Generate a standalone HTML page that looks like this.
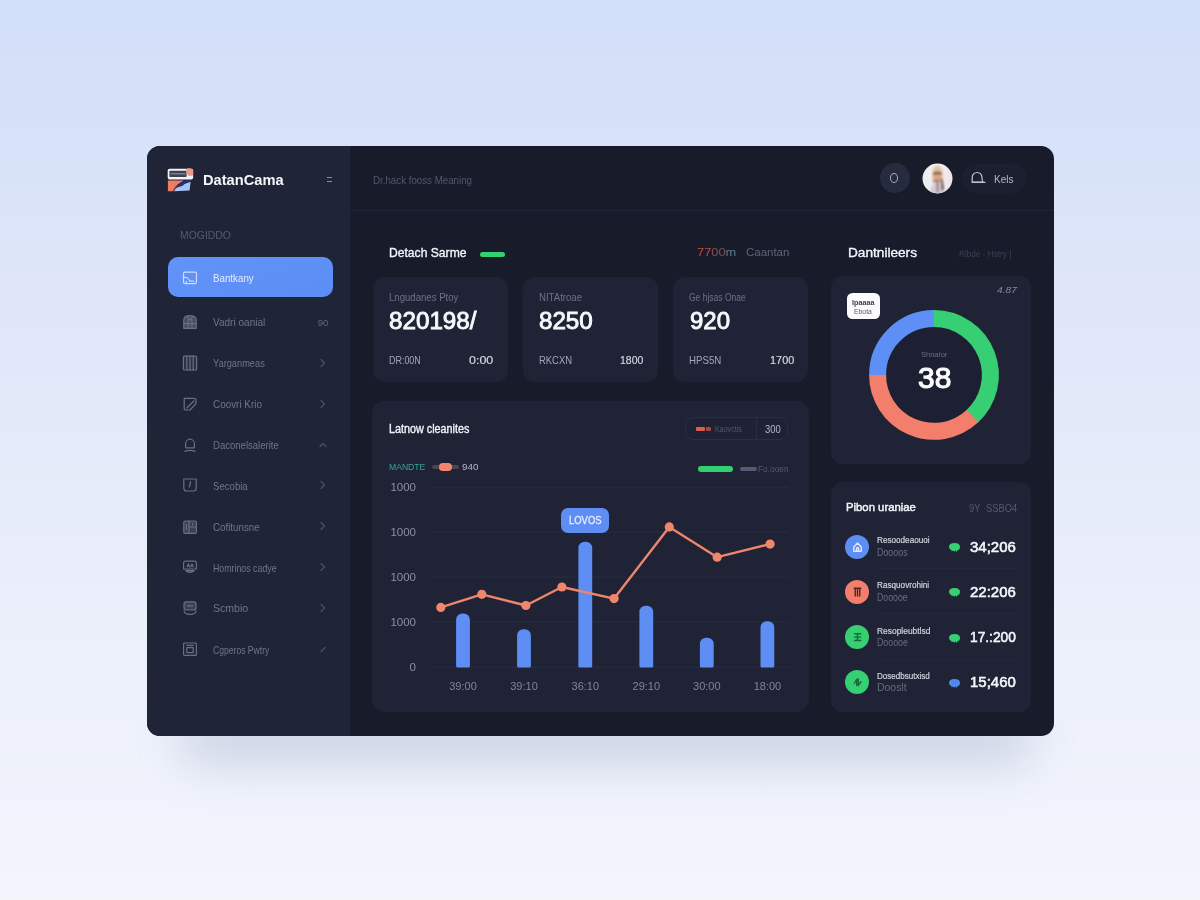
<!DOCTYPE html>
<html lang="en">
<head>
<meta charset="utf-8">
<title>DatanCama Dashboard</title>
<style>
*{box-sizing:border-box;margin:0;padding:0}
html,body{width:1200px;height:900px;overflow:hidden}
body{font-family:"Liberation Sans",sans-serif;background:linear-gradient(180deg,#d2dff8 0%,#d7e2f8 15%,#dfe6f9 33%,#e6ebfa 52%,#ecf0fb 72%,#f0f3fc 90%,#f3f5fb 100%);position:relative;color:#fff}
.abs{position:absolute}
.t{position:absolute;white-space:nowrap;line-height:1;transform:translateY(-50%)}
#shadow{left:178px;top:714px;width:856px;height:50px;border-radius:25px;background:rgba(112,126,165,.26);filter:blur(22px)}
#app{left:146.5px;top:146px;width:907.6px;height:589.7px;border-radius:13px;background:#181b2a;overflow:hidden}
#side{left:0;top:0;width:203.3px;height:590px;background:#1f2437}
#hline{left:203.3px;top:64.2px;width:705px;height:1px;background:#212537}
.card{position:absolute;background:#1f2335;border-radius:12px}
.nav{position:absolute;left:21.2px;width:165.2px;height:40px}
.nav .ic{position:absolute;left:14.3px;top:12.4px;width:16px;height:16px}
.nav .lb{position:absolute;left:45.2px;top:20.7px;font-size:10.8px;color:#70758b;line-height:1;transform:translateY(-50%);white-space:nowrap}
.nav .ch{position:absolute;left:151.5px;top:14px;width:8px;height:12px}
.nav.act{background:linear-gradient(160deg,#6193f8 0%,#5c8df4 100%);border-radius:10px;height:40.8px;margin-top:-0.4px}
.nav.act .lb{color:#e6edff;top:21.6px}
.nav.act .ic{top:13px}
.nav .bd{position:absolute;right:4.5px;top:21.5px;font-size:9.5px;color:#62677d;line-height:1;transform:translateY(-50%)}
</style>
</head>
<body>
<div id="shadow" class="abs"></div>
<div id="app" class="abs">
<div id="side" class="abs">
<svg class="abs" style="left:20.5px;top:21.8px" width="27" height="25" viewBox="0 0 27 25">
  <rect x="0.7" y="0.7" width="25.4" height="10.9" rx="1.8" fill="#f1f2f8"/>
  <rect x="2.4" y="2.7" width="17.2" height="6.4" rx="0.8" fill="#3f414f"/>
  <rect x="3.4" y="5.3" width="15.2" height="1" fill="#9a9ba6"/>
  <path d="M19.2 1.4 Q20.2 -0.2 23 0.3 L26.2 1.4 V7.4 L21.8 8 Q18.8 6 19.2 1.4 Z" fill="#ec9a84"/>
  <path d="M0.9 12.5 H16.8 Q13.2 14.6 10 17 Q7.4 19.4 6 23.3 H0.9 Z" fill="#ef7c65"/>
  <path d="M9.6 17.2 Q7 19.6 5.8 23.3 H7.2 Q8.6 19.6 11.4 17.6 Z" fill="#9a3a30"/>
  <path d="M7 23.3 Q8.4 19.8 11.8 18.6 Q15.4 18.2 17.4 15.6 L23.6 13.4 L22.6 22.6 Z" fill="#a9c3f6"/>
  <path d="M17 12.5 H24 L23.6 13.8 L17.6 16 Q15.6 18.4 12.2 18.8 Q10 19.2 8.6 20.6 Q10.4 17 13.4 15.4 Z" fill="#22356d"/>
</svg>
<span class="t" style="left:56.7px;top:33.9px;font-size:15.5px;color:#f4f6fb;font-weight:bold;transform-origin:0 50%;transform:translateY(-50%) scaleX(0.945)">DatanCama</span>
<div class="abs" style="left:180px;top:31px;width:5px;height:1.2px;background:#8a8fa3"></div><div class="abs" style="left:180px;top:34.6px;width:5px;height:1.2px;background:#8a8fa3"></div>
<span class="t" style="left:33.5px;top:89.2px;font-size:11px;color:#555a70;transform-origin:0 50%;transform:translateY(-50%) scaleX(0.948)">MOGIDDO</span>
<div class="nav act" style="top:111.0px"><svg class="ic" viewBox="0 0 16 16" fill="none" stroke="#cfdcff" stroke-width="1.2" stroke-linecap="round" stroke-linejoin="round"><rect x="1.5" y="2.2" width="13" height="11.4" rx="1.5"/><path d="M1.5 7.6 C4.5 7 7 8.6 7.6 11.2 L11.8 11.2"/><path d="M4.2 11.4 L4.2 13.4"/></svg><span class="lb" style="transform-origin:0 50%;transform:translateY(-50%) scaleX(0.904)">Bantkany</span></div>
<div class="nav" style="top:155.8px"><svg class="ic" viewBox="0 0 16 16" fill="none" stroke="#6a6f86" stroke-width="1.2" stroke-linecap="round" stroke-linejoin="round"><path d="M1.8 6 Q1.8 1.6 8 1.6 Q14.2 1.6 14.2 6 V14.4 H1.8 Z" fill="#6a6f86" fill-opacity=".55"/><path d="M1.8 9.6 H14.2 M6.2 5.6 V14.4 M10 5.6 V14.4 M5 2.6 L8 6.4 L11 2.6"/></svg><span class="lb" style="transform-origin:0 50%;transform:translateY(-50%) scaleX(0.93)">Vadri oanial</span><span class="bd">90</span></div>
<div class="nav" style="top:196.7px"><svg class="ic" viewBox="0 0 16 16" fill="none" stroke="#6a6f86" stroke-width="1.2" stroke-linecap="round" stroke-linejoin="round"><rect x="1.4" y="1.2" width="13.2" height="13.8" rx="1" fill="#6a6f86" fill-opacity=".18"/><path d="M4.8 1.2 V15 M8 1.2 V15 M11.2 1.2 V15"/></svg><span class="lb" style="transform-origin:0 50%;transform:translateY(-50%) scaleX(0.857)">Yarganmeas</span><svg class="ch" viewBox="0 0 8 12"><path d="M2 2.5 L5.5 6 L2 9.5" fill="none" stroke="#4b5066" stroke-width="1.2" stroke-linecap="round" stroke-linejoin="round"/></svg></div>
<div class="nav" style="top:237.8px"><svg class="ic" viewBox="0 0 16 16" fill="none" stroke="#6a6f86" stroke-width="1.2" stroke-linecap="round" stroke-linejoin="round"><path d="M2.2 2.4 H12 Q14 2.4 14 4.4 V7.6 L8 14 H4 Q2.2 14 2.2 12.2 Z"/><path d="M4.8 12 L11.8 5"/></svg><span class="lb" style="transform-origin:0 50%;transform:translateY(-50%) scaleX(0.917)">Coovri Krio</span><svg class="ch" viewBox="0 0 8 12"><path d="M2 2.5 L5.5 6 L2 9.5" fill="none" stroke="#4b5066" stroke-width="1.2" stroke-linecap="round" stroke-linejoin="round"/></svg></div>
<div class="nav" style="top:278.7px"><svg class="ic" viewBox="0 0 16 16" fill="none" stroke="#6a6f86" stroke-width="1.2" stroke-linecap="round" stroke-linejoin="round"><path d="M3.6 10.8 V6.8 a4.4 4.6 0 0 1 8.8 0 V10.8 Z"/><path d="M3 14.4 Q8 12.4 13 14.4"/></svg><span class="lb" style="transform-origin:0 50%;transform:translateY(-50%) scaleX(0.884)">Daconelsalerite</span><svg class="ch" viewBox="0 0 8 12"><path d="M1 7.5 L4 4.5 L7 7.5" fill="none" stroke="#4b5066" stroke-width="1.2" stroke-linecap="round" stroke-linejoin="round"/></svg></div>
<div class="nav" style="top:319.0px"><svg class="ic" viewBox="0 0 16 16" fill="none" stroke="#6a6f86" stroke-width="1.2" stroke-linecap="round" stroke-linejoin="round"><path d="M1.8 2 H14.2 V11 Q14.2 14 11.4 14 H4.6 Q1.8 14 1.8 11 Z"/><path d="M8.6 4.6 L7.4 10"/></svg><span class="lb" style="transform-origin:0 50%;transform:translateY(-50%) scaleX(0.889)">Secobia</span><svg class="ch" viewBox="0 0 8 12"><path d="M2 2.5 L5.5 6 L2 9.5" fill="none" stroke="#4b5066" stroke-width="1.2" stroke-linecap="round" stroke-linejoin="round"/></svg></div>
<div class="nav" style="top:360.3px"><svg class="ic" viewBox="0 0 16 16" fill="none" stroke="#6a6f86" stroke-width="1.2" stroke-linecap="round" stroke-linejoin="round"><rect x="1.8" y="2" width="12.6" height="12.4" rx="1.4" fill="#6a6f86" fill-opacity=".4"/><path d="M7 2 V14.4 M7 8 H14.4 M4.4 5.6 V10.4 M10.6 4.4 V6"/></svg><span class="lb" style="transform-origin:0 50%;transform:translateY(-50%) scaleX(0.903)">Cofitunsne</span><svg class="ch" viewBox="0 0 8 12"><path d="M2 2.5 L5.5 6 L2 9.5" fill="none" stroke="#4b5066" stroke-width="1.2" stroke-linecap="round" stroke-linejoin="round"/></svg></div>
<div class="nav" style="top:401.1px"><svg class="ic" viewBox="0 0 16 16" fill="none" stroke="#6a6f86" stroke-width="1.2" stroke-linecap="round" stroke-linejoin="round"><path d="M1.6 4 Q1.6 2.2 3.4 2.2 H12.6 Q14.4 2.2 14.4 4 V10 H1.6 Z"/><path d="M5.2 8 L6.4 4.8 L7.6 8 M8.8 8 L10 4.8 L11.2 8"/><path d="M3.6 11.6 Q8 15.4 12.4 11.6 Z" fill="#6a6f86" fill-opacity=".5"/></svg><span class="lb" style="transform-origin:0 50%;transform:translateY(-50%) scaleX(0.815)">Homrinos cadye</span><svg class="ch" viewBox="0 0 8 12"><path d="M2 2.5 L5.5 6 L2 9.5" fill="none" stroke="#4b5066" stroke-width="1.2" stroke-linecap="round" stroke-linejoin="round"/></svg></div>
<div class="nav" style="top:441.8px"><svg class="ic" viewBox="0 0 16 16" fill="none" stroke="#6a6f86" stroke-width="1.2" stroke-linecap="round" stroke-linejoin="round"><rect x="2" y="1.8" width="12" height="8.2" rx="2.2" fill="#6a6f86" fill-opacity=".4"/><path d="M5.6 5.8 H10.6"/><path d="M2 10.6 Q2 14.4 8 14.4 Q14 14.4 14 10.6"/></svg><span class="lb" style="transform-origin:0 50%;transform:translateY(-50%) scaleX(0.977)">Scmbio</span><svg class="ch" viewBox="0 0 8 12"><path d="M2 2.5 L5.5 6 L2 9.5" fill="none" stroke="#4b5066" stroke-width="1.2" stroke-linecap="round" stroke-linejoin="round"/></svg></div>
<div class="nav" style="top:483.1px"><svg class="ic" viewBox="0 0 16 16" fill="none" stroke="#6a6f86" stroke-width="1.2" stroke-linecap="round" stroke-linejoin="round"><rect x="1.6" y="2" width="12.8" height="12.4" rx="1"/><rect x="4.8" y="6.6" width="6.4" height="5"/><path d="M4.8 4.4 H11.2"/></svg><span class="lb" style="transform-origin:0 50%;transform:translateY(-50%) scaleX(0.795)">Cgperos Pwtry</span><svg class="ch" viewBox="0 0 8 12"><path d="M2 8.5 L6 4.5" fill="none" stroke="#4b5066" stroke-width="1.2" stroke-linecap="round" stroke-linejoin="round"/></svg></div>
</div>
<div id="hline" class="abs"></div>
<span class="t" style="left:226.2px;top:33.8px;font-size:10.5px;color:#52576d;transform-origin:0 50%;transform:translateY(-50%) scaleX(0.927)">Dr.hack fooss Meaning</span>
<div class="abs" style="left:733.0px;top:17.3px;width:30px;height:30px;border-radius:50%;background:#262b3f"></div>
<div class="abs" style="left:743.8px;top:27.4px;width:8px;height:9.4px;border-radius:50%;border:1.3px solid #a9aebf"></div>
<svg class="abs" style="left:775.1px;top:16.9px" width="31" height="31" viewBox="0 0 31 31">
  <defs><clipPath id="avc"><circle cx="15.5" cy="15.5" r="15"/></clipPath>
  <linearGradient id="avg" x1="0" y1="0" x2="1" y2="0"><stop offset="0" stop-color="#ebecef"/><stop offset="0.55" stop-color="#f3eff0"/><stop offset="1" stop-color="#efe3e5"/></linearGradient>
  <filter id="avb" x="-20%" y="-20%" width="140%" height="140%"><feGaussianBlur stdDeviation="0.8"/></filter></defs>
  <circle cx="15.5" cy="15.5" r="15" fill="url(#avg)"/>
  <g clip-path="url(#avc)"><g filter="url(#avb)">
    <path d="M8 31 Q8.4 21.4 13 20.4 H19 Q22 21.6 22 31 Z" fill="#d3cbd4"/>
    <path d="M10.4 14 Q9.8 3.2 15.4 2.8 Q21.2 3.2 20.8 13 L21.4 20 H10.6 Z" fill="#dcc6a3"/>
    <ellipse cx="15.3" cy="13" rx="3.9" ry="4.8" fill="#e2a585"/>
    <path d="M11 9.6 Q15.4 7.6 19.8 9.6 V12 Q15.4 10.6 11 12.2 Z" fill="#80502f" fill-opacity=".85"/>
    <rect x="11" y="17" width="7.2" height="1.6" fill="#6b585a" fill-opacity=".8"/>
    <rect x="14.2" y="19" width="2.8" height="10.6" fill="#a48a9b"/>
    <path d="M19 15 Q21.4 15.6 21.8 27.2 H19.6 Z" fill="#5b4139"/>
  </g></g>
</svg>
<div class="abs" style="left:815.8px;top:18.0px;width:65px;height:29px;border-radius:14.5px;background:#1c1f30"></div>
<svg class="abs" style="left:823.5px;top:25.2px" width="16" height="14" viewBox="0 0 16 14" fill="none" stroke="#c0c4d2" stroke-width="1.2" stroke-linecap="round" stroke-linejoin="round"><path d="M2.2 11.2 V6.4 a4.9 4.9 0 0 1 9.8 0 Q12 9.6 13 11.2 Z"/><path d="M2.2 11.4 H15"/></svg>
<span class="t" style="left:847.1px;top:33.5px;font-size:10px;color:#b4b8c7;transform-origin:0 50%;transform:translateY(-50%) scaleX(1.002)">Kels</span>
<span class="t" style="left:242.3px;top:107.0px;font-size:12.5px;color:#f3f5fa;transform-origin:0 50%;transform:translateY(-50%) scaleX(0.97);-webkit-text-stroke:0.35px currentColor">Detach Sarme</span>
<div class="abs" style="left:333.9px;top:105.7px;width:24.6px;height:5.8px;border-radius:3px;background:#34cf6e"></div>
<span class="t" style="left:550.3px;top:106.8px;font-size:11.5px;color:#c9574f;transform-origin:0 50%;transform:translateY(-50%) scaleX(1.118)"><span style="color:#c04b45">77</span><span style="color:#84504d">00</span><span style="color:#557e8a">m</span></span>
<span class="t" style="left:599.5px;top:106.8px;font-size:11.5px;color:#5f647a;transform-origin:0 50%;transform:translateY(-50%) scaleX(0.996)">Caantan</span>
<span class="t" style="left:701.3px;top:107.2px;font-size:12.5px;color:#f3f5fa;transform-origin:0 50%;transform:translateY(-50%) scaleX(1.091);-webkit-text-stroke:0.35px currentColor">Dantnileers</span>
<span class="t" style="left:812.8px;top:107.8px;font-size:9.5px;color:#3c4155;transform-origin:0 50%;transform:translateY(-50%) scaleX(0.864)">Ribde - Hstry |</span>
<div class="card" style="left:226.8px;top:131.3px;width:134.5px;height:105px">
<span class="t" style="left:16.2px;top:20.3px;font-size:10px;color:#6d7288;transform-origin:0 50%;transform:translateY(-50%) scaleX(0.959)">Lngudanes Ptoy</span>
<span class="t" style="left:15.3px;top:44.3px;font-size:23.5px;color:#f7f8fc;transform-origin:0 50%;transform:translateY(-50%) scaleX(1.03);-webkit-text-stroke:0.9px currentColor">820198/</span>
<span class="t" style="left:15.6px;top:82.9px;font-size:11px;color:#a3a8b9;transform-origin:0 50%;transform:translateY(-50%) scaleX(0.812)">DR:00N</span>
<span class="t" style="left:96.2px;top:83.5px;font-size:11.5px;color:#d3d6e0;transform-origin:0 50%;transform:translateY(-50%) scaleX(1.083);-webkit-text-stroke:0.2px currentColor">0:00</span>
</div>
<div class="card" style="left:376.8px;top:131.3px;width:134.5px;height:105px">
<span class="t" style="left:16.2px;top:20.3px;font-size:10px;color:#6d7288;transform-origin:0 50%;transform:translateY(-50%) scaleX(0.959)">NITAtroae</span>
<span class="t" style="left:15.9px;top:44.3px;font-size:23.5px;color:#f7f8fc;transform-origin:0 50%;transform:translateY(-50%) scaleX(1.028);-webkit-text-stroke:0.9px currentColor">8250</span>
<span class="t" style="left:16.2px;top:82.9px;font-size:11px;color:#a3a8b9;transform-origin:0 50%;transform:translateY(-50%) scaleX(0.857)">RKCXN</span>
<span class="t" style="left:97.2px;top:83.5px;font-size:11.5px;color:#d3d6e0;transform-origin:0 50%;transform:translateY(-50%) scaleX(0.909);-webkit-text-stroke:0.2px currentColor">1800</span>
</div>
<div class="card" style="left:526.8px;top:131.3px;width:134.5px;height:105px">
<span class="t" style="left:16.0px;top:20.3px;font-size:10px;color:#6d7288;transform-origin:0 50%;transform:translateY(-50%) scaleX(0.85)">Ge hjsas Onae</span>
<span class="t" style="left:16.4px;top:44.3px;font-size:23.5px;color:#f7f8fc;transform-origin:0 50%;transform:translateY(-50%) scaleX(1.02);-webkit-text-stroke:0.9px currentColor">920</span>
<span class="t" style="left:16.0px;top:82.9px;font-size:11px;color:#a3a8b9;transform-origin:0 50%;transform:translateY(-50%) scaleX(0.881)">HPS5N</span>
<span class="t" style="left:96.7px;top:83.5px;font-size:11.5px;color:#d3d6e0;transform-origin:0 50%;transform:translateY(-50%) scaleX(0.95);-webkit-text-stroke:0.2px currentColor">1700</span>
</div>
<div class="card" style="left:225.2px;top:255.0px;width:437.2px;height:310.6px;border-radius:13px">
<span class="t" style="left:17.7px;top:27.8px;font-size:12px;color:#f3f5fa;transform-origin:0 50%;transform:translateY(-50%) scaleX(0.898);-webkit-text-stroke:0.35px currentColor">Latnow cleanites</span>
<div class="abs" style="left:313.5px;top:16.4px;width:103px;height:22.4px;border-radius:8px;border:1px solid #2a2e43;background:#1e2234"></div>
<div class="abs" style="left:384.3px;top:16.4px;width:1px;height:22.4px;background:#292d42"></div>
<div class="abs" style="left:324.1px;top:26.0px;width:9px;height:3.6px;border-radius:1px;background:#d9604f"></div>
<div class="abs" style="left:333.9px;top:26.0px;width:5.6px;height:3.6px;border-radius:1px;background:#a64a44"></div>
<span class="t" style="left:343.7px;top:27.8px;font-size:9px;color:#52576c;transform-origin:0 50%;transform:translateY(-50%) scaleX(0.788)">Kaovctis</span>
<span class="t" style="left:393.3px;top:27.8px;font-size:10.5px;color:#b4b8c7;transform-origin:0 50%;transform:translateY(-50%) scaleX(0.902)">300</span>
<span class="t" style="left:17.7px;top:65.9px;font-size:9px;color:#3aa596;transform-origin:0 50%;transform:translateY(-50%) scaleX(0.955)">MANDTE</span>
<div class="abs" style="left:60.8px;top:64.2px;width:27px;height:3.4px;border-radius:2px;background:#4f434d"></div>
<div class="abs" style="left:67.7px;top:62.0px;width:12.6px;height:7.6px;border-radius:3.8px;background:#f0866c"></div>
<span class="t" style="left:90.7px;top:65.9px;font-size:9px;color:#b4b8c7;transform-origin:0 50%;transform:translateY(-50%) scaleX(1.099)">940</span>
<div class="abs" style="left:326.5px;top:64.5px;width:34.8px;height:6.4px;border-radius:3.2px;background:#34cf6e"></div>
<div class="abs" style="left:368.5px;top:65.6px;width:16.4px;height:4.2px;border-radius:2px;background:#545a7a"></div>
<span class="t" style="left:385.9px;top:67.8px;font-size:9px;color:#565b71;transform-origin:0 50%;transform:translateY(-50%) scaleX(0.927)">Fo.ooen</span>
<svg class="abs" style="left:0;top:0" width="437" height="311" viewBox="0 0 437 311" font-family="Liberation Sans, sans-serif">
<line x1="59.3" y1="86.2" x2="416.9" y2="86.2" stroke="#292d41" stroke-width="1"/>
<line x1="59.3" y1="131.2" x2="416.9" y2="131.2" stroke="#292d41" stroke-width="1"/>
<line x1="59.3" y1="176.0" x2="416.9" y2="176.0" stroke="#292d41" stroke-width="1"/>
<line x1="59.3" y1="221.2" x2="416.9" y2="221.2" stroke="#292d41" stroke-width="1"/>
<line x1="59.3" y1="266.2" x2="416.9" y2="266.2" stroke="#292d41" stroke-width="1"/>
<text x="44.0" y="90.4" text-anchor="end" font-size="11.5" fill="#8b90a3">1000</text>
<text x="44.0" y="135.4" text-anchor="end" font-size="11.5" fill="#8b90a3">1000</text>
<text x="44.0" y="180.2" text-anchor="end" font-size="11.5" fill="#8b90a3">1000</text>
<text x="44.0" y="225.4" text-anchor="end" font-size="11.5" fill="#8b90a3">1000</text>
<text x="44.0" y="270.4" text-anchor="end" font-size="11.5" fill="#8b90a3">0</text>
<path d="M84.1 265.0 V218.7 a6.2 6.2 0 0 1 6.2 -6.2 H91.7 a6.2 6.2 0 0 1 6.2 6.2 V265.0 a1.6 1.6 0 0 1 -1.6 1.6 H85.7 a1.6 1.6 0 0 1 -1.6 -1.6 Z" fill="#5e8ef4"/>
<path d="M145.1 265.0 V234.4 a6.2 6.2 0 0 1 6.2 -6.2 H152.7 a6.2 6.2 0 0 1 6.2 6.2 V265.0 a1.6 1.6 0 0 1 -1.6 1.6 H146.7 a1.6 1.6 0 0 1 -1.6 -1.6 Z" fill="#5e8ef4"/>
<path d="M206.4 265.0 V147.0 a6.2 6.2 0 0 1 6.2 -6.2 H214.0 a6.2 6.2 0 0 1 6.2 6.2 V265.0 a1.6 1.6 0 0 1 -1.6 1.6 H208.0 a1.6 1.6 0 0 1 -1.6 -1.6 Z" fill="#5e8ef4"/>
<path d="M267.4 265.0 V211.0 a6.2 6.2 0 0 1 6.2 -6.2 H275.0 a6.2 6.2 0 0 1 6.2 6.2 V265.0 a1.6 1.6 0 0 1 -1.6 1.6 H269.0 a1.6 1.6 0 0 1 -1.6 -1.6 Z" fill="#5e8ef4"/>
<path d="M327.9 265.0 V242.9 a6.2 6.2 0 0 1 6.2 -6.2 H335.5 a6.2 6.2 0 0 1 6.2 6.2 V265.0 a1.6 1.6 0 0 1 -1.6 1.6 H329.5 a1.6 1.6 0 0 1 -1.6 -1.6 Z" fill="#5e8ef4"/>
<path d="M388.5 265.0 V226.4 a6.2 6.2 0 0 1 6.2 -6.2 H396.1 a6.2 6.2 0 0 1 6.2 6.2 V265.0 a1.6 1.6 0 0 1 -1.6 1.6 H390.1 a1.6 1.6 0 0 1 -1.6 -1.6 Z" fill="#5e8ef4"/>
<polyline points="68.8,206.4 109.8,193.3 153.9,204.5 189.9,186.0 242.1,197.6 297.3,125.9 345.2,156.2 398.1,143.1" fill="none" stroke="#ee866d" stroke-width="2.4" stroke-linejoin="round" stroke-linecap="round"/>
<circle cx="68.8" cy="206.4" r="4.6" fill="#f0866c"/>
<circle cx="109.8" cy="193.3" r="4.6" fill="#f0866c"/>
<circle cx="153.9" cy="204.5" r="4.6" fill="#f0866c"/>
<circle cx="189.9" cy="186.0" r="4.6" fill="#f0866c"/>
<circle cx="242.1" cy="197.6" r="4.6" fill="#f0866c"/>
<circle cx="297.3" cy="125.9" r="4.6" fill="#f0866c"/>
<circle cx="345.2" cy="156.2" r="4.6" fill="#f0866c"/>
<circle cx="398.1" cy="143.1" r="4.6" fill="#f0866c"/>
<text x="91.0" y="289.4" text-anchor="middle" font-size="11" fill="#80859a">39:00</text>
<text x="152.0" y="289.4" text-anchor="middle" font-size="11" fill="#80859a">39:10</text>
<text x="213.3" y="289.4" text-anchor="middle" font-size="11" fill="#80859a">36:10</text>
<text x="274.3" y="289.4" text-anchor="middle" font-size="11" fill="#80859a">29:10</text>
<text x="334.8" y="289.4" text-anchor="middle" font-size="11" fill="#80859a">30:00</text>
<text x="395.4" y="289.4" text-anchor="middle" font-size="11" fill="#80859a">18:00</text>
</svg>
<div class="abs" style="left:189.6px;top:106.6px;width:48px;height:25px;border-radius:7px;background:#5e8ef4"></div>
<span class="t" style="left:197.3px;top:119.4px;font-size:11px;color:#e6edff;transform-origin:0 50%;transform:translateY(-50%) scaleX(0.86);-webkit-text-stroke:0.3px currentColor">LOVOS</span>
</div>
<div class="card" style="left:684.0px;top:129.5px;width:200px;height:188px">
<svg class="abs" style="left:0;top:0" width="200" height="188" viewBox="0 0 200 188">
<circle cx="103.0" cy="98.9" r="56.4" fill="#1d2032"/>
<path d="M103.00 42.50 A56.40 56.40 0 0 1 140.74 140.81" fill="none" stroke="#37cf73" stroke-width="17.0"/>
<path d="M141.46 140.15 A56.40 56.40 0 0 1 46.60 98.41" fill="none" stroke="#f27e6b" stroke-width="17.0"/>
<path d="M46.60 98.90 A56.40 56.40 0 0 1 103.00 42.50" fill="none" stroke="#5d8ff6" stroke-width="17.0"/>
</svg>
<div class="abs" style="left:16.1px;top:17.2px;width:33.6px;height:26px;border-radius:5.5px;background:#fbfbfd"></div>
<span class="t" style="left:21.4px;top:26.1px;font-size:7px;color:#3a3f52;font-weight:bold;transform-origin:0 50%;transform:translateY(-50%) scaleX(1.037)">Ipaaaa</span>
<span class="t" style="left:23.7px;top:35.5px;font-size:7px;color:#555a6d;transform-origin:0 50%;transform:translateY(-50%) scaleX(0.978)">Ebota</span>
<span class="t" style="left:166.9px;top:14.4px;font-size:9.5px;color:#858a9e;transform-origin:0 50%;transform:translateY(-50%) scaleX(1.071);font-style:italic">4.87</span>
<span class="t" style="left:90.5px;top:79.7px;font-size:8px;color:#6a6f85;transform-origin:0 50%;transform:translateY(-50%) scaleX(0.939)">Shnator</span>
<span class="t" style="left:87.1px;top:102.3px;font-size:29px;color:#fafbfd;transform-origin:0 50%;transform:translateY(-50%) scaleX(1.032);-webkit-text-stroke:1.1px currentColor">38</span>
</div>
<div class="card" style="left:684.0px;top:336.3px;width:200px;height:229.4px">
<span class="t" style="left:15.1px;top:25.3px;font-size:11.5px;color:#f3f5fa;transform-origin:0 50%;transform:translateY(-50%) scaleX(0.985);-webkit-text-stroke:0.45px currentColor">Pibon uraniae</span>
<span class="t" style="left:138.0px;top:25.6px;font-size:10.5px;color:#555a70;transform-origin:0 50%;transform:translateY(-50%) scaleX(0.891)">9Y <span style="color:#3c4155">·</span>SSBO4</span>
<div class="abs" style="left:14.5px;top:52.5px;width:24px;height:24px;border-radius:50%;background:#5e8ef4"></div>
<svg class="abs" style="left:19.0px;top:55.3px" width="15" height="17.5" viewBox="0 0 12 14"><path d="M3 7.2 L6 4 L9 7.2 V10.6 H3 Z M5.2 10.4 V8 H6.8 V10.4" fill="none" stroke="#dfe8ff" stroke-width="1.1" stroke-linejoin="round"/></svg>
<span class="t" style="left:46.4px;top:57.9px;font-size:9px;color:#d0d4df;transform-origin:0 50%;transform:translateY(-50%) scaleX(0.906);-webkit-text-stroke:0.2px currentColor">Resoodeaouoi</span>
<span class="t" style="left:46.4px;top:70.7px;font-size:10px;color:#686d83;transform-origin:0 50%;transform:translateY(-50%) scaleX(0.888)">Doooos</span>
<svg class="abs" style="left:117.3px;top:59.9px" width="13" height="11" viewBox="0 0 13 11"><path d="M1 4.8 Q1 1 6.5 1 Q12 1 12 4.8 Q12 8 9.2 8.4 L9 10 L7.4 8.6 L6 9.8 L5 8.6 L3.6 9.6 L3.6 8.2 Q1 7.6 1 4.8 Z" fill="#37cf73"/></svg>
<span class="t" style="left:139.4px;top:64.7px;font-size:14.5px;color:#f6f7fb;transform-origin:0 50%;transform:translateY(-50%) scaleX(1.033);-webkit-text-stroke:0.55px currentColor">34;206</span>
<div class="abs" style="left:46.5px;top:85.9px;width:139px;height:1px;background:#25293c"></div>
<div class="abs" style="left:14.5px;top:97.7px;width:24px;height:24px;border-radius:50%;background:#f27e6b"></div>
<svg class="abs" style="left:19.0px;top:100.5px" width="15" height="17.5" viewBox="0 0 12 14"><path d="M4.2 4.4 V10.4 M6 4.4 V10.4 M7.8 4.4 V10.4 M3.4 4.2 H8.6" fill="none" stroke="#4a2520" stroke-width="1.1" stroke-linecap="round"/></svg>
<span class="t" style="left:46.4px;top:103.1px;font-size:9px;color:#d0d4df;transform-origin:0 50%;transform:translateY(-50%) scaleX(0.907);-webkit-text-stroke:0.2px currentColor">Rasquovrohini</span>
<span class="t" style="left:46.4px;top:115.9px;font-size:10px;color:#686d83;transform-origin:0 50%;transform:translateY(-50%) scaleX(0.874)">Dooooe</span>
<svg class="abs" style="left:117.3px;top:105.1px" width="13" height="11" viewBox="0 0 13 11"><path d="M1 4.8 Q1 1 6.5 1 Q12 1 12 4.8 Q12 8 9.2 8.4 L9 10 L7.4 8.6 L6 9.8 L5 8.6 L3.6 9.6 L3.6 8.2 Q1 7.6 1 4.8 Z" fill="#37cf73"/></svg>
<span class="t" style="left:139.4px;top:109.9px;font-size:14.5px;color:#f6f7fb;transform-origin:0 50%;transform:translateY(-50%) scaleX(1.033);-webkit-text-stroke:0.55px currentColor">22:206</span>
<div class="abs" style="left:46.5px;top:131.1px;width:139px;height:1px;background:#25293c"></div>
<div class="abs" style="left:14.5px;top:142.9px;width:24px;height:24px;border-radius:50%;background:#37cf73"></div>
<svg class="abs" style="left:19.0px;top:145.7px" width="15" height="17.5" viewBox="0 0 12 14"><path d="M3.6 4.6 H8.6 M3.6 7.3 H8.6 M3.6 10 H8.6 M6 4.6 V10" fill="none" stroke="#166a39" stroke-width="1.1" stroke-linecap="round"/></svg>
<span class="t" style="left:46.4px;top:148.3px;font-size:9px;color:#d0d4df;transform-origin:0 50%;transform:translateY(-50%) scaleX(0.936);-webkit-text-stroke:0.2px currentColor">Resopleubtlsd</span>
<span class="t" style="left:46.4px;top:161.1px;font-size:10px;color:#686d83;transform-origin:0 50%;transform:translateY(-50%) scaleX(0.879)">Dooooe</span>
<svg class="abs" style="left:117.3px;top:150.3px" width="13" height="11" viewBox="0 0 13 11"><path d="M1 4.8 Q1 1 6.5 1 Q12 1 12 4.8 Q12 8 9.2 8.4 L9 10 L7.4 8.6 L6 9.8 L5 8.6 L3.6 9.6 L3.6 8.2 Q1 7.6 1 4.8 Z" fill="#37cf73"/></svg>
<span class="t" style="left:139.4px;top:155.1px;font-size:14.5px;color:#f6f7fb;transform-origin:0 50%;transform:translateY(-50%) scaleX(0.947);-webkit-text-stroke:0.55px currentColor">17.:200</span>
<div class="abs" style="left:46.5px;top:176.3px;width:139px;height:1px;background:#25293c"></div>
<div class="abs" style="left:14.5px;top:188.0px;width:24px;height:24px;border-radius:50%;background:#37cf73"></div>
<svg class="abs" style="left:19.0px;top:190.8px" width="15" height="17.5" viewBox="0 0 12 14"><path d="M3.4 8.4 L5.4 5 L5.4 10 M6.6 4.6 L6.6 10 L8.8 7" fill="none" stroke="#166a39" stroke-width="1.1" stroke-linecap="round" stroke-linejoin="round"/></svg>
<span class="t" style="left:46.4px;top:193.4px;font-size:9px;color:#d0d4df;transform-origin:0 50%;transform:translateY(-50%) scaleX(0.894);-webkit-text-stroke:0.2px currentColor">Dosedbsutxisd</span>
<span class="t" style="left:46.4px;top:206.2px;font-size:10px;color:#686d83;transform-origin:0 50%;transform:translateY(-50%) scaleX(1.044)">Dooslt</span>
<svg class="abs" style="left:117.3px;top:195.4px" width="13" height="11" viewBox="0 0 13 11"><path d="M1 4.8 Q1 1 6.5 1 Q12 1 12 4.8 Q12 8 9.2 8.4 L9 10 L7.4 8.6 L6 9.8 L5 8.6 L3.6 9.6 L3.6 8.2 Q1 7.6 1 4.8 Z" fill="#4f8ae8"/></svg>
<span class="t" style="left:139.4px;top:200.2px;font-size:14.5px;color:#f6f7fb;transform-origin:0 50%;transform:translateY(-50%) scaleX(1.033);-webkit-text-stroke:0.55px currentColor">15;460</span>
</div>
</div>
</body>
</html>
